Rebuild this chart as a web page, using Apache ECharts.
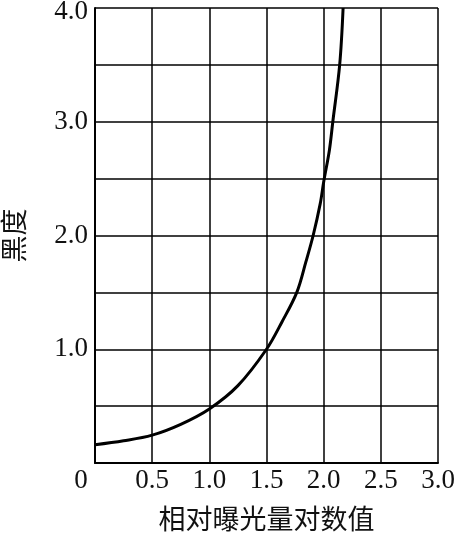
<!DOCTYPE html>
<html>
<head>
<meta charset="utf-8">
<script src="https://cdn.jsdelivr.net/npm/echarts@6/dist/echarts.min.js"></script>
<style>
html,body{margin:0;padding:0;background:#fff;}
#chart{width:455px;height:535px;}
</style>
</head>
<body>
<div id="chart"></div>
<script>
// Data
const exposureLog = [0, 0.25, 0.5, 0.75, 1.0, 1.25, 1.5, 1.635, 1.765, 1.845, 1.908, 1.97, 2.0, 2.05, 2.08, 2.14, 2.17];
const density     = [0.16, 0.195, 0.245, 0.34, 0.475, 0.68, 1.0, 1.24, 1.5, 1.77, 2.0, 2.28, 2.47, 2.75, 3.0, 3.5, 4.0];
const xTickLabels = ['0', '0.5', '1.0', '1.5', '2.0', '2.5', '3.0'];
const yTickLabels = ['1.0', '2.0', '3.0', '4.0'];
const xName = '相对曝光量对数值';
const yName = '黑度';

const numFont = '"Liberation Serif", "DejaVu Serif", serif';
const cjkFont = '"Noto Sans CJK SC", sans-serif';

const chart = echarts.init(document.getElementById('chart'));
chart.setOption({
  animation: false,
  backgroundColor: '#fff',
  grid: { left: 95, right: 17, top: 8, bottom: 72, containLabel: false, outerBoundsMode: 'none' },
  xAxis: {
    type: 'value', min: 0, max: 3, interval: 0.5,
    name: xName, nameLocation: 'middle', nameGap: 42,
    nameTextStyle: { fontFamily: cjkFont, fontSize: 27, color: '#111' },
    axisLine: { show: true, lineStyle: { color: '#000', width: 2 } },
    axisTick: { show: false },
    splitLine: { show: true, lineStyle: { color: '#000', width: 1.5 } },
    axisLabel: {
      margin: 4,
      fontFamily: numFont, fontSize: 27, color: '#111',
      formatter: function (v) {
        const i = Math.round(v / 0.5);
        const t = xTickLabels[i] || '';
        return i === 0 ? '{o|' + t + '}' : t;
      },
      rich: { o: { fontFamily: numFont, fontSize: 27, color: '#111', padding: [0, 28, 0, 0] } }
    }
  },
  yAxis: {
    type: 'value', min: 0, max: 4, interval: 0.5,
    name: yName, nameLocation: 'middle', nameGap: 68, nameRotate: 90,
    nameTextStyle: { fontFamily: cjkFont, fontSize: 27, color: '#111' },
    axisLine: { show: true, lineStyle: { color: '#000', width: 2 } },
    axisTick: { show: false },
    splitLine: { show: true, lineStyle: { color: '#000', width: 1.5 } },
    axisLabel: {
      margin: 7,
      fontFamily: numFont, fontSize: 27, color: '#111',
      formatter: function (v) {
        if (Math.abs(v - Math.round(v)) > 1e-6 || v < 1) return '';
        const t = yTickLabels[Math.round(v) - 1] || '';
        return Math.round(v) === 4 ? '{t|' + t + '}' : t;
      },
      rich: { t: { fontFamily: numFont, fontSize: 27, color: '#111', padding: [8, 0, 0, 0] } }
    }
  },
  series: [{
    type: 'line',
    data: exposureLog.map((x, i) => [x, density[i]]),
    smooth: 0.35,
    showSymbol: false,
    clip: true,
    lineStyle: { color: '#000', width: 3 }
  }]
});
</script>
</body>
</html>
